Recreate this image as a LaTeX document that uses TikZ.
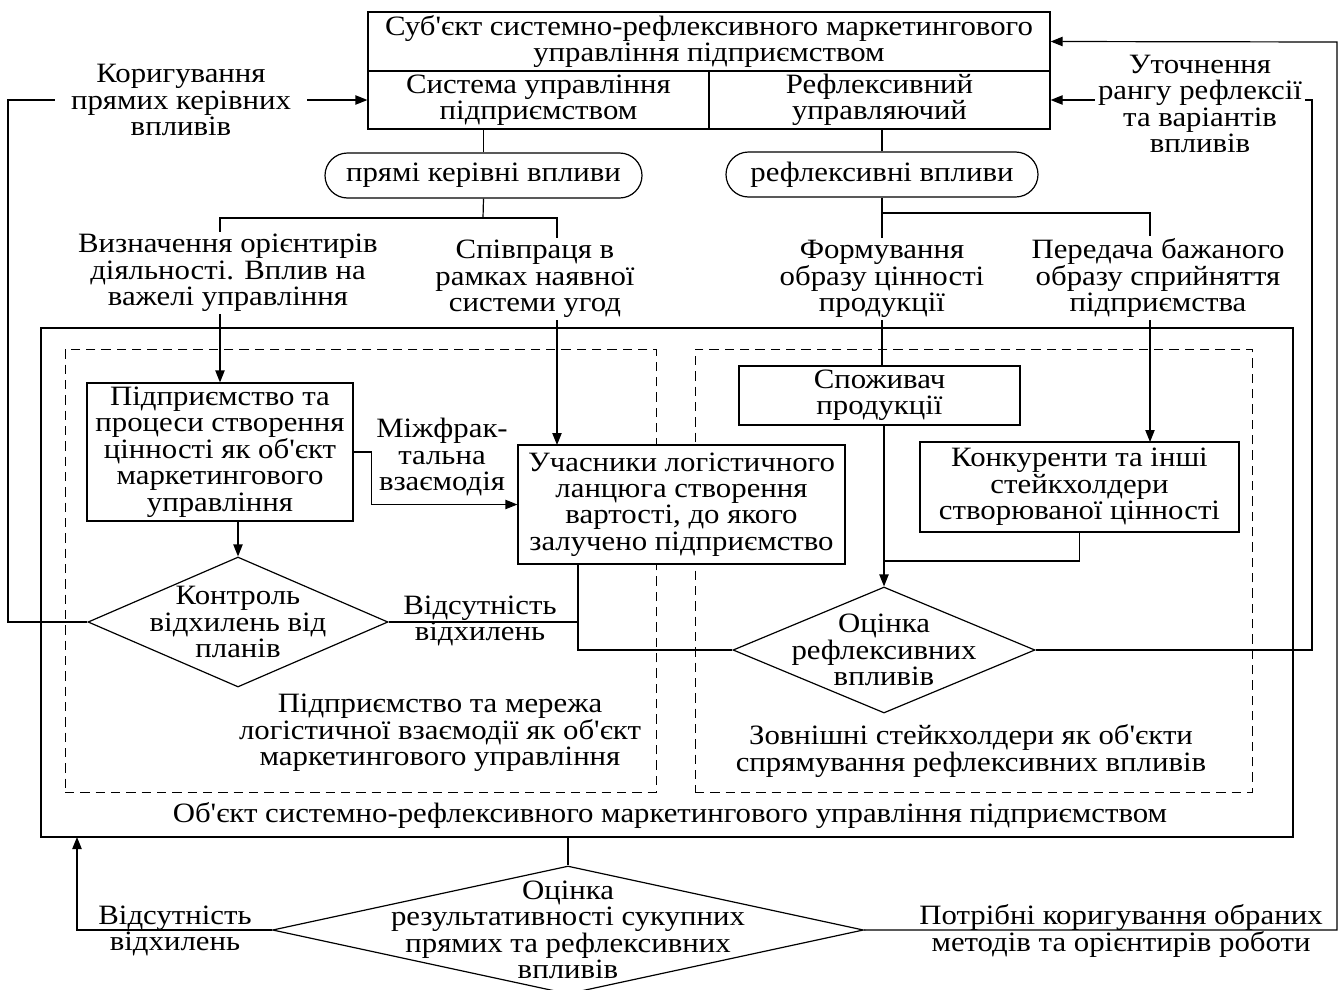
\documentclass[tikz,border=0pt]{standalone}
\usepackage{fontspec}
\setmainfont{Liberation Serif}[FakeStretch=1.1, Ligatures=TeXOff]
\usetikzlibrary{fit, shapes.geometric, shapes.misc, arrows.meta}

\begin{document}
\begin{tikzpicture}
    [x=0.75pt, y=-0.75pt, line width=0.9pt,
     every node/.style={align=center, font=\fontsize{21}{19.8}\selectfont, inner sep=0pt},
     box/.style={draw, rectangle, fill=white},
     pill/.style={draw, rounded rectangle},
     check/.style={draw, diamond},
     area/.style={draw, dash pattern=on 7pt off 4.5pt, line width=0.7pt},
     onwire/.style={fill=white, inner sep=2pt},
     arr/.style={-{Triangle[length=9pt, width=7pt]}}]

    \useasboundingbox (0,0) rectangle (1342,989);

    \node (subj) [box, minimum width=511.5pt, minimum height=44.25pt] at (709,41.5) {Суб'єкт системно-рефлексивного маркетингового\\управління підприємством};
    \node (sys) [box, minimum width=255.75pt, minimum height=43.5pt] at (538.5,100) {Система управління\\підприємством};
    \node (refl) [box, minimum width=255.75pt, minimum height=43.5pt] at (879.5,100) {Рефлексивний\\управляючий};
    \node (pdir) [pill, minimum width=237.75pt, minimum height=33.75pt] at (483.5,175.5) {прямі керівні впливи};
    \node (prefl) [pill, minimum width=234pt, minimum height=33.75pt] at (882,174.5) {рефлексивні впливи};

    \node (obj) [box, fit={(41,328) (1293,837)}] {};
    \node (netw) [area, fit={(65,349) (656,792)}] {};
    \node (stake) [area, fit={(695,349) (1252,792)}] {};

    \node (ent) [box, minimum width=199.5pt, minimum height=103.5pt] at (220,452) {Підприємство та\\процеси створення\\цінності як об'єкт\\маркетингового\\управління};
    \node (part) [box, minimum width=245.25pt, minimum height=89.25pt] at (681.5,504.5) {Учасники логістичного\\ланцюга створення\\вартості, до якого\\залучено підприємство};
    \node (cons) [box, minimum width=210.75pt, minimum height=44.25pt] at (879.5,395.5) {Споживач\\продукції};
    \node (comp) [box, minimum width=239.25pt, minimum height=67.5pt] at (1079.5,487) {Конкуренти та інші\\стейкхолдери\\створюваної цінності};

    \node (ctrl) [check, minimum width=225pt, minimum height=97.5pt,
      label={[align=center]center:Контроль\\відхилень від\\планів}] at (238,622) {};
    \node (orefl) [check, minimum width=226.5pt, minimum height=94.5pt,
      label={[align=center]center:Оцінка\\рефлексивних\\впливів}] at (884,650) {};
    \node (oresult) [check, minimum width=443.25pt, minimum height=96pt,
      label={[align=center]center:Оцінка\\результативності сукупних\\прямих та рефлексивних\\впливів}] at (568,930) {};

    \coordinate (pj) at (483,218);
    \coordinate (coopin) at (557,445);
    \coordinate (rj) at (882,213);
    \coordinate (percin) at (1150,442);
    \coordinate (cj) at (884,561);
    \coordinate (vj) at (578,622);
    \coordinate (corrl) at (8,100);
    \coordinate (corrr) at (1312,100);
    \coordinate (corrt) at (1337,42);
    \coordinate (back) at (77,837);

    \draw (pdir.north) -- (pdir.north |- sys.south);
    \draw (prefl.north) -- (prefl.north |- refl.south);
    \draw (pdir.south) -- (pj);
    \draw[arr] (pj) -| (ent.north);
    \draw[arr] (pj) -| (coopin);
    \draw (prefl.south) -- (prefl.south |- cons.north);
    \draw[arr] (rj) -| (percin);
    \draw[arr] (ent.east) -- ++(18,0) |- (part.west);
    \draw[arr] (ent.south -| ctrl.north) -- (ctrl.north);
    \draw[arr] (cons.south -| orefl.north) -- (orefl.north);
    \draw (comp.south) |- (cj);
    \draw (ctrl.east) -- (vj);
    \draw (part.south -| vj) |- (orefl.west);
    \draw[arr] (ctrl.west) -| (corrl) -- (sys.west);
    \draw[arr] (orefl.east) -| (corrr) -- (refl.east);
    \draw[arr] (oresult.east) -| (corrt) -- (subj.east);
    \draw (obj.south -| oresult.north) -- (oresult.north);
    \draw[arr] (oresult.west) -| (back);

    \node (orient) [onwire] at (228,273) {Визначення орієнтирів\\діяльності. Вплив на\\важелі управління};
    \node (coop) [onwire] at (535,279) {Співпраця в\\рамках наявної\\системи угод};
    \node (image) [onwire] at (882,279) {Формування\\образу цінності\\продукції};
    \node (percep) [onwire] at (1158,278) {Передача бажаного\\образу сприйняття\\підприємства};
    \node (corr) [onwire, inner xsep=12pt] at (181,100) {Коригування\\прямих керівних\\впливів};
    \node (rank) [onwire] at (1200,104) {Уточнення\\рангу рефлексії\\та варіантів\\впливів};

    \node (interf) at (442,457) {Міжфрак-\\тальна\\взаємодія};
    \node (noerr) at (480,621) {Відсутність\\відхилень};
    \node (noerrb) at (175,931) {Відсутність\\відхилень};
    \node (needfix) at (1121,931) {Потрібні коригування обраних\\методів та орієнтирів роботи};
    \node (netwtxt) at (440,733) {Підприємство та мережа\\логістичної взаємодії як об'єкт\\маркетингового управління};
    \node (staketxt) at (971,751) {Зовнішні стейкхолдери як об'єкти\\спрямування рефлексивних впливів};
    \node (objtxt) at (670,815) {Об'єкт системно-рефлексивного маркетингового управління підприємством};
\end{tikzpicture}
\end{document}
